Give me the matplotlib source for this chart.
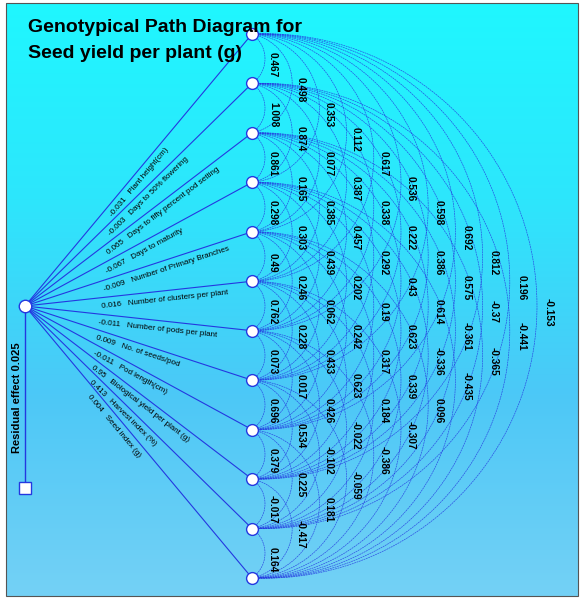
import matplotlib
matplotlib.use("Agg")
import matplotlib.pyplot as plt
import numpy as np
from matplotlib.colors import LinearSegmentedColormap
from matplotlib.patches import Rectangle

# traits (nodes on the right, top to bottom) and their direct effects
traits = ["Plant height(cm)", "Days to 50% flowering",
          "Days to fifty percent pod setting", "Days to maturity",
          "Number of Primary Branches", "Number of clusters per plant",
          "Number of pods per plant", "No. of seeds/pod", "Pod length(cm)",
          "Biological yield per plant (g)", "Harvest index (%)", "Seed index (g)"]
direct = [-0.031, -0.003, 0.065, -0.067, -0.009, 0.016, -0.011, 0.009,
          -0.011, 0.95, 0.413, 0.004]
residual = 0.025

# genotypic correlations, grouped by gap between the two traits
gap1 = [0.467, 1.008, 0.861, 0.298, 0.49, 0.762, 0.073, 0.696, 0.379, -0.017, 0.164]
gap2 = [0.498, 0.874, 0.165, 0.303, 0.246, 0.228, 0.017, 0.534, 0.225, -0.417]
gap3 = [0.353, 0.077, 0.385, 0.439, 0.062, 0.433, 0.426, -0.102, 0.181]
gap4 = [0.112, 0.387, 0.457, 0.202, 0.242, 0.623, -0.022, -0.059]
gap5 = [0.617, 0.338, 0.292, 0.19, 0.317, 0.184, -0.386]
gap6 = [0.536, 0.222, 0.43, 0.623, 0.339, -0.307]
gap7 = [0.598, 0.386, 0.614, -0.336, 0.096]
gap8 = [0.692, 0.575, -0.361, -0.435]
gap9 = [0.812, -0.37, -0.365]
gap10 = [0.196, -0.441]
gap11 = [-0.153]
gaps = [gap1, gap2, gap3, gap4, gap5, gap6, gap7, gap8, gap9, gap10, gap11]

title_lines = ["Genotypical Path Diagram for", "Seed yield per plant (g)"]

W, H = 580, 599
fig = plt.figure(figsize=(W / 100, H / 100), dpi=100, facecolor="white")
ax = fig.add_axes([0, 0, 1, 1])
ax.set_xlim(0, W)
ax.set_ylim(H, 0)
ax.axis("off")

# background panel with vertical gradient
bg = LinearSegmentedColormap.from_list(
    "bg", [(0, "#1ff7ff"), (0.33, "#2de6fc"), (0.66, "#4cc8f7"), (1, "#74d1f5")])
grad = np.linspace(0, 1, 256).reshape(-1, 1)
ax.imshow(grad, cmap=bg, aspect="auto", extent=[6, 578, 596, 3], zorder=0)
ax.add_patch(Rectangle((6, 3), 572, 593, fill=False, ec="#555555", lw=0.8, zorder=1))

LINE = "#2438e0"
NODE_X, TOP, STEP = 252, 34, 49.45
HUB = (25, 306)
ys = TOP + STEP * np.arange(len(traits))

# lines from hub to traits with labels
for i, (name, val) in enumerate(zip(traits, direct)):
    ax.plot([HUB[0], NODE_X], [HUB[1], ys[i]], color=LINE, lw=0.8, zorder=2)
    ang = np.degrees(np.arctan2(HUB[1] - ys[i], NODE_X - HUB[0]))
    f = 0.35 - 0.04 * i / 11
    px = HUB[0] + f * (NODE_X - HUB[0])
    py = HUB[1] + f * (ys[i] - HUB[1])
    r = np.radians(ang)
    px += 5 * np.sin(r)
    py += 5 * np.cos(r)
    ax.text(px, py, f"{val:g}   {name}", rotation=ang, rotation_mode="anchor",
            ha="left", va="top", fontsize=5.8, family="Liberation Sans", zorder=4)

# correlation arcs (circular arcs bulging to the right)
for k, vals in enumerate(gaps, start=1):
    bulge = 13 + 27.2 * (k - 1)
    lx = 273 + 27.6 * (k - 1)
    for i, v in enumerate(vals):
        y0, y1 = ys[i], ys[i + k]
        yc, b = (y0 + y1) / 2, (y1 - y0) / 2
        R = (b ** 2 + bulge ** 2) / (2 * bulge)
        cx = NODE_X + bulge - R
        phi = np.linspace(np.arctan2(-b, NODE_X - cx), np.arctan2(b, NODE_X - cx), 200)
        ax.plot(cx + R * np.cos(phi), yc + R * np.sin(phi), color=LINE,
                lw=0.45, ls=(0, (3, 1)), alpha=0.9, zorder=2)
        ax.text(lx, yc + 6, f"{v:g}", rotation=270, ha="center", va="center",
                fontsize=7.3, fontweight="bold", family="Liberation Sans", zorder=4)

# nodes
ax.plot(np.full(len(ys), NODE_X), ys, "o", ms=8.5, mfc="white", mec=LINE, mew=1, zorder=5)
ax.plot([HUB[0], HUB[0]], [HUB[1], 488], color=LINE, lw=1, zorder=2)
ax.plot([HUB[0]], [HUB[1]], "o", ms=9, mfc="white", mec=LINE, mew=1, zorder=5)
ax.plot([HUB[0]], [488], "s", ms=9, mfc="white", mec=LINE, mew=1, zorder=5)
ax.text(17, 398, f"Residual effect {residual:g}", rotation=90, ha="center",
        va="center", fontsize=8, fontweight="bold", family="Liberation Sans", zorder=4)

for line, base in zip(title_lines, [32, 58]):
    ax.text(28, base, line, ha="left", va="baseline", fontsize=14,
            fontweight="bold", family="Liberation Sans", zorder=6)

fig.savefig("out.png", dpi=100, facecolor="white")
